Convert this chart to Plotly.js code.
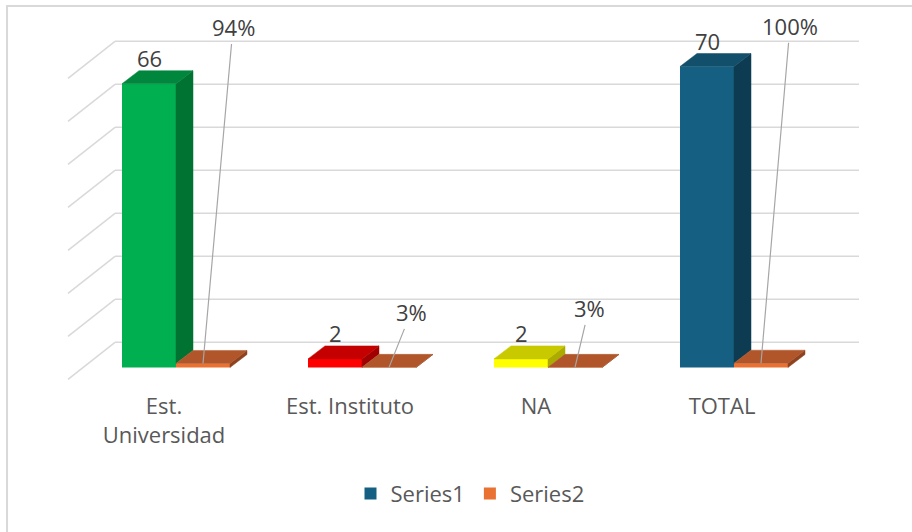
<!DOCTYPE html>
<html>
<head>
<meta charset="utf-8">
<script src="https://cdn.plot.ly/plotly-3.0.1.min.js"></script>
<style>
html,body{margin:0;padding:0;background:#ffffff;}
#chart{width:912px;height:532px;}
</style>
</head>
<body>
<div id="chart"></div>
<script>
// ---------- data ----------
const categories = ["Est.<br>Universidad", "Est. Instituto", "NA", "TOTAL"];
const series1 = [66, 2, 2, 70];
const series2 = [0.94, 0.03, 0.03, 1.00];
const series2Labels = ["94%", "3%", "3%", "100%"];
const gridValues = [0, 10, 20, 30, 40, 50, 60, 70];

// ---------- styles ----------
const s1Front = ["#00B050", "#FF0000", "#FFFF00", "#156082"];
const s1Top   = ["#00873D", "#C40000", "#C9C900", "#124F6B"];
const s1Side  = ["#007231", "#A00000", "#ABAB00", "#0D3C52"];
const s2Front = "#E97132";
const s2Top   = "#B0562A";
const s2Side  = "#8E4220";
const labelColor = "#404040";
const axisColor = "#595959";
const gridColor = "#D9D9D9";
const FONT = "Open Sans, Arial, sans-serif";

// ---------- geometry (pixel scale of the axes) ----------
const PXX = 186;   // px per category unit
const PXY = 4.3;   // px per value unit
const barW = 54 / PXX;
const bdx = 17 / PXX, bdy = 13 / PXY;             // bar depth
const wallBackDy = 25.2 / PXY;                      // back wall offset
const wallLeft = (115 - 176) / PXX, wallRight = (859 - 176) / PXX;
const sideDx = 47 / PXX, sideDy = 37 / PXY;         // left wall depth
const tickShift = -12 / PXX;
const s2Offsets = [[30, -336], [22, -55], [14, -59], [29, -337]];

const xIdx = categories.map((c, i) => i);

const traces = [];
// front faces as bars
traces.push({
  type: "bar", x: xIdx, y: series1, width: barW, offset: -barW,
  marker: { color: s1Front, line: { width: 0 } }, showlegend: false, hoverinfo: "skip", name: "Series1"
});
traces.push({
  type: "bar", x: xIdx, y: series2, width: barW, offset: 0,
  marker: { color: s2Front, line: { width: 0 } }, showlegend: false, hoverinfo: "skip", name: "Series2"
});

function face(xs, ys, color) {
  return {
    type: "scatter", mode: "lines", x: xs.concat([xs[0]]), y: ys.concat([ys[0]]),
    fill: "toself", fillcolor: color, line: { color: color, width: 0.5 },
    showlegend: false, hoverinfo: "skip"
  };
}

// series1 side + top faces
xIdx.forEach(i => {
  const x0 = i - barW, x1 = i, v = series1[i], b = Math.max(series2[i], 0);
  traces.push(face([x1, x1, x1 + bdx, x1 + bdx], [b, v, v + bdy, b + bdy], s1Side[i]));
  traces.push(face([x0, x1, x1 + bdx, x0 + bdx], [v, v, v + bdy, v + bdy], s1Top[i]));
});
// series2 side + top faces
xIdx.forEach(i => {
  const x0 = i, x1 = i + barW, v = series2[i];
  traces.push(face([x1, x1, x1 + bdx, x1 + bdx], [0, v, v + bdy, bdy], s2Side));
  traces.push(face([x0, x1, x1 + bdx, x0 + bdx], [v, v, v + bdy, v + bdy], s2Top));
});

// legend-only entries
traces.push({ type: "bar", x: [null], y: [null], name: "Series1", marker: { color: "#156082" }, hoverinfo: "skip" });
traces.push({ type: "bar", x: [null], y: [null], name: "Series2", marker: { color: s2Front }, hoverinfo: "skip" });

// gridlines (back wall + left wall)
const shapes = [];
gridValues.forEach(g => {
  const yb = g + wallBackDy;
  shapes.push({ type: "line", xref: "x", yref: "y", layer: "below",
    x0: wallLeft, x1: wallRight, y0: yb, y1: yb, line: { color: gridColor, width: 1.5 } });
  shapes.push({ type: "line", xref: "x", yref: "y", layer: "below",
    x0: wallLeft - sideDx, x1: wallLeft, y0: yb - sideDy, y1: yb, line: { color: gridColor, width: 1.5 } });
});
// chart border
shapes.push({ type: "rect", xref: "paper", yref: "paper", layer: "below",
  x0: -0.0646, x1: 1.06, y0: -0.45, y1: 1.0107, line: { color: gridColor, width: 2 }, fillcolor: "rgba(0,0,0,0)" });

// labels
const annotations = [];
xIdx.forEach(i => {
  annotations.push({ x: i - barW / 2, y: series1[i], xref: "x", yref: "y", text: String(series1[i]),
    showarrow: false, yshift: 26, font: { family: FONT, size: 22, color: labelColor } });
  annotations.push({ x: i + barW / 2, y: series2[i], xref: "x", yref: "y", text: series2Labels[i],
    showarrow: true, arrowhead: 0, arrowwidth: 1.2, arrowcolor: "#A6A6A6", standoff: 0,
    ax: s2Offsets[i][0], ay: s2Offsets[i][1], axref: "pixel", ayref: "pixel",
    font: { family: FONT, size: 22, color: labelColor } });
});

const layout = {
  width: 912, height: 532,
  margin: { l: 60, r: 32, t: 10, b: 147, pad: 0 },
  paper_bgcolor: "#ffffff", plot_bgcolor: "rgba(0,0,0,0)",
  barmode: "overlay",
  font: { family: FONT, color: axisColor },
  xaxis: {
    range: [(60 - 176) / PXX, (880 - 176) / PXX],
    tickmode: "array", tickvals: xIdx.map(i => i + tickShift), ticktext: categories,
    showgrid: false, zeroline: false, showline: false, ticks: "",
    tickfont: { family: FONT, size: 22, color: axisColor }, ticklabelstandoff: 6, fixedrange: true
  },
  yaxis: {
    range: [(367.5 - 385) / PXY, (367.5 - 10) / PXY],
    showgrid: false, zeroline: false, showline: false, showticklabels: false, ticks: "", fixedrange: true
  },
  showlegend: true,
  legend: { orientation: "h", x: 0.5, xanchor: "center", y: -0.29, yanchor: "middle",
    font: { family: FONT, size: 22, color: axisColor }, traceorder: "normal", bgcolor: "rgba(0,0,0,0)" },
  shapes: shapes,
  annotations: annotations
};

Plotly.newPlot("chart", traces, layout, { displayModeBar: false, staticPlot: true });
</script>
</body>
</html>
